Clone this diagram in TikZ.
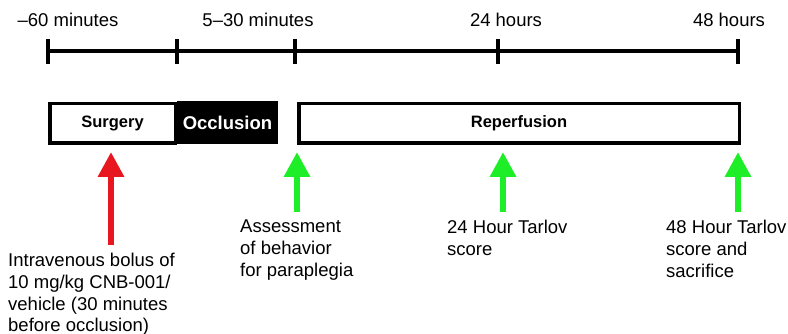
\documentclass[tikz,border=0pt]{standalone}
\usepackage{fontspec}
\setmainfont{Liberation Sans}
\usetikzlibrary{positioning}
\usetikzlibrary{arrows.meta}

\definecolor{bolusred}{RGB}{232,22,30}
\definecolor{scoregreen}{RGB}{30,238,40}

\tikzset{
  timefont/.style={font=\fontsize{18.5}{21.7}\selectfont},
  phase/.style={draw,line width=3.5pt,minimum height=39.5pt,inner sep=0pt,
    font=\fontsize{16.5}{18}\selectfont\bfseries},
  pointer/.style={line width=6.5pt,-{Triangle[length=25pt,width=25pt]}},
  note/.style={timefont,align=left,anchor=north west,inner sep=0pt}
}

\begin{document}
\begin{tikzpicture}[x=1pt,y=-1pt]
  \useasboundingbox (0,0) rectangle (788,334);

  \draw[line width=4pt] (48,51.5) -- (738,51.5);
  \foreach \x/\n in {48/t1,177/t2,295/t3,498/t4,738/t5}{
    \draw[line width=4pt] (\x,39) -- (\x,64);
    \coordinate (\n) at (\x,51.5);
  }

  \node[timefont] (lab1) at (68,20) {--60 minutes};
  \node[timefont] (lab2) at (258,20) {5--30 minutes};
  \node[timefont] (lab3) at (506,20) {24 hours};
  \node[timefont] (lab4) at (729,20) {48 hours};

  \node[phase,minimum width=125.5pt] (surgery) at (112.5,123.5) {Surgery};
  \node[phase,minimum width=97.5pt,fill=black,text=white,
    font=\fontsize{18.5}{20}\selectfont\bfseries] (occlusion) at (227.5,123) {Occlusion};
  \node[phase,minimum width=440.5pt] (reperfusion) at (519,123.5) {Reperfusion};

  \node[note] (bolus) at (8,253) {Intravenous bolus of\\10 mg/kg CNB-001/\\vehicle (30 minutes\\before occlusion)};
  \node[note] (assess) at (240,220) {Assessment\\of behavior\\for paraplegia};
  \node[note] (tarlov24) at (447,220) {24 Hour Tarlov\\score};
  \node[note] (tarlov48) at (666,220) {48 Hour Tarlov\\score and\\sacrifice};

  \coordinate (bolus tail) at (111,245);
  \coordinate (bolus tip) at (111,152);
  \draw[pointer,bolusred] (bolus tail) -- (bolus tip);

  \foreach \x/\n in {297/assess,503/tarlov24,738/tarlov48}{
    \coordinate (\n tail) at (\x,212);
    \coordinate (\n tip) at (\x,152);
    \draw[pointer,scoregreen] (\n tail) -- (\n tip);
  }
\end{tikzpicture}
\end{document}
